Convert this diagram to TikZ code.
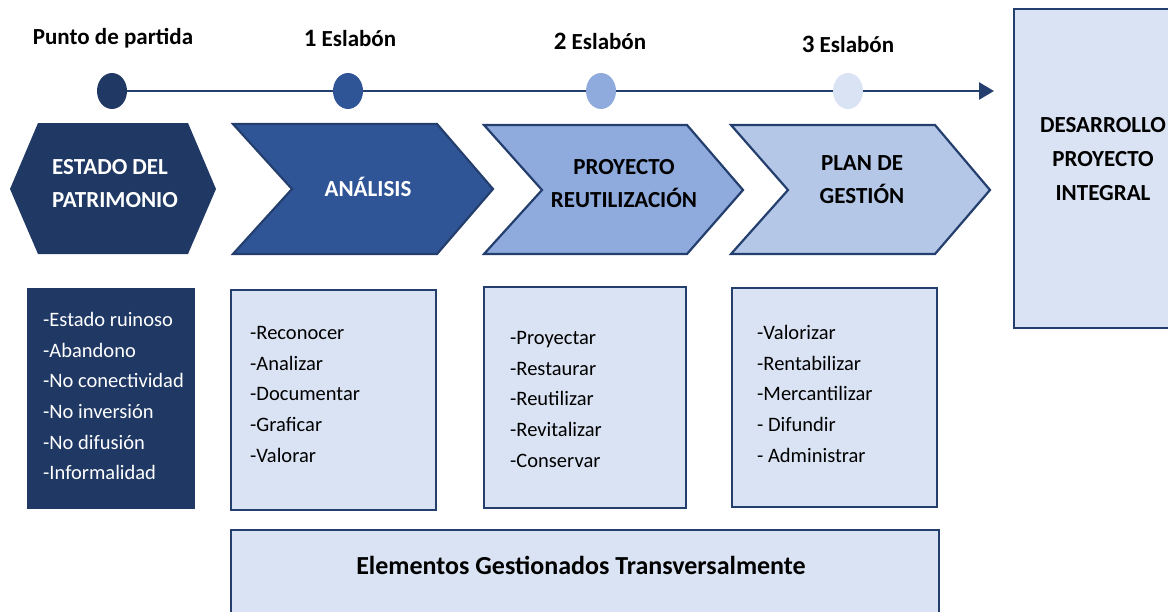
\documentclass[tikz,border=0pt]{standalone}
\usepackage{fontspec}
\setmainfont{Carlito}
\usetikzlibrary{shapes.geometric,arrows.meta}
\definecolor{navy}{HTML}{1F3864}
\definecolor{midblue}{HTML}{2F5597}
\definecolor{lblue}{HTML}{8FAADC}
\definecolor{llblue}{HTML}{B4C7E7}
\definecolor{pale}{HTML}{DAE3F3}
\definecolor{edge}{HTML}{243F6E}
\begin{document}
\begin{tikzpicture}[x=1pt,y=-1pt,
  dot/.style={ellipse,minimum width=30pt,minimum height=36pt,inner sep=0pt,draw=none},
  title/.style={font=\bfseries\fontsize{23}{25}\selectfont,text=black,inner sep=0pt},
  shapeborder/.style={draw=edge,line width=2.2pt,line join=miter},
  stagelabel/.style={font=\bfseries\fontsize{23}{33}\selectfont,align=center,inner sep=0pt},
  listbox/.style={draw=edge,line width=2.2pt,fill=pale},
  listtext/.style={font=\fontsize{20.5}{30.7}\selectfont,align=left,anchor=north west,inner sep=0pt},
  timeline/.style={draw=edge,line width=2.6pt}
]
\useasboundingbox (0,0) rectangle (1168,611);

% titles
\node[title] (t0) at (113,38) {Punto de partida};
\node[title] (t1) at (350,38) {{\fontsize{25}{25}\selectfont 1} Eslabón};
\node[title] (t2) at (600,41) {{\fontsize{25}{25}\selectfont 2} Eslabón};
\node[title] (t3) at (848,44) {{\fontsize{25}{25}\selectfont 3} Eslabón};

% timeline
\node[dot,fill=navy] (c0) at (112,91) {};
\node[dot,fill=midblue] (c1) at (348,91) {};
\node[dot,fill=lblue] (c2) at (601,91) {};
\node[dot,fill=pale] (c3) at (848,91) {};
\coordinate (tend) at (994,91);
\draw[timeline] (c0.east) -- (c1.west);
\draw[timeline] (c1.east) -- (c2.west);
\draw[timeline] (c2.east) -- (c3.west);
\draw[timeline,-{Triangle[length=15pt,width=17pt]}] (c3.east) -- (tend);

% hexagon
\fill[navy] (38,123) -- (188,123) -- (216,189) -- (188,254) -- (38,254) -- (10,189) -- cycle;
\node[stagelabel,text=white,align=left] (hex) at (115,184) {ESTADO DEL\\PATRIMONIO};

% chevrons
\draw[shapeborder,fill=midblue] (233,124) -- (437,124) -- (493,189) -- (437,254) -- (233,254) -- (292,189) -- cycle;
\node[stagelabel,text=white] (ch1) at (368,187) {ANÁLISIS};
\draw[shapeborder,fill=lblue] (484,125) -- (687,125) -- (743,190) -- (687,254) -- (484,254) -- (542,190) -- cycle;
\node[stagelabel,text=black] (ch2) at (624,184) {PROYECTO\\REUTILIZACIÓN};
\draw[shapeborder,fill=llblue] (731,125) -- (935,125) -- (990,190) -- (935,254) -- (731,254) -- (788,190) -- cycle;
\node[stagelabel,text=black] (ch3) at (862,180) {PLAN DE\\GESTIÓN};

% final box
\draw[listbox] (1014,9) rectangle (1185,328);
\node[stagelabel,text=black,font=\bfseries\fontsize{23}{34}\selectfont] (fin) at (1103,159) {DESARROLLO\\PROYECTO\\INTEGRAL};

% list boxes
\fill[navy] (27,288) rectangle (195,509);
\node[listtext,text=white] (l0) at (43,312) {-Estado ruinoso\\-Abandono\\-No conectividad\\-No inversión\\-No difusión\\-Informalidad};
\draw[listbox] (231,290) rectangle (436,510);
\node[listtext] (l1) at (250,326) {-Reconocer\\-Analizar\\-Documentar\\-Graficar\\-Valorar};
\draw[listbox] (484,287) rectangle (686,508);
\node[listtext] (l2) at (510,331) {-Proyectar\\-Restaurar\\-Reutilizar\\-Revitalizar\\-Conservar};
\draw[listbox] (732,288) rectangle (937,507);
\node[listtext] (l3) at (757,325) {-Valorizar\\-Rentabilizar\\-Mercantilizar\\- Difundir\\- Administrar};

% bottom box
\draw[listbox] (231,530) rectangle (939,625);
\node[font=\bfseries\fontsize{26}{28}\selectfont,inner sep=0pt] (bot) at (581,565) {Elementos Gestionados Transversalmente};
\end{tikzpicture}
\end{document}
